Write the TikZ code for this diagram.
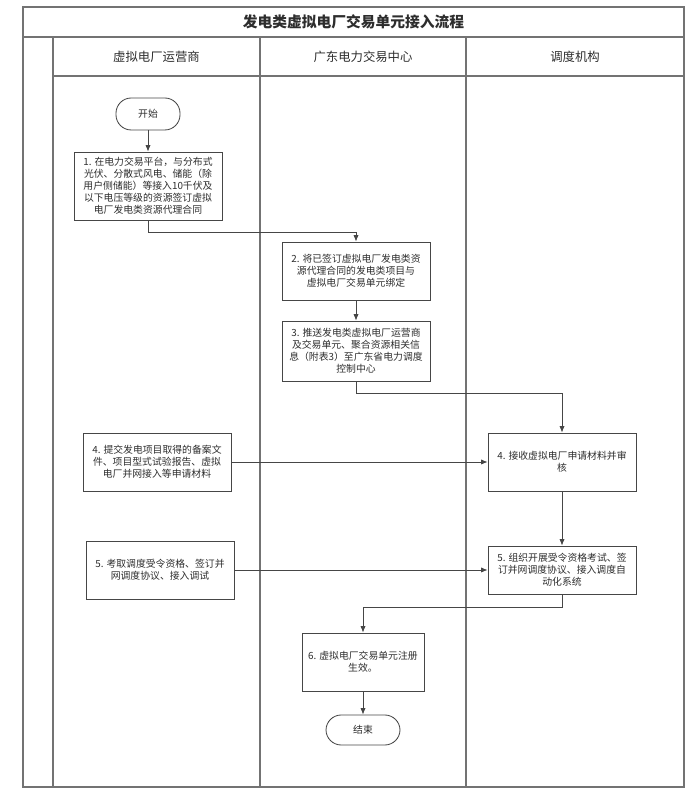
\documentclass[tikz,border=0pt]{standalone}
\usepackage{fontspec}
\setmainfont{Noto Sans CJK SC}
\usepackage{tikz}
\usetikzlibrary{arrows.meta, positioning, calc}
\definecolor{linegray}{RGB}{70, 70, 70}
\definecolor{framegray}{RGB}{115, 115, 115}
\definecolor{textgray}{RGB}{45, 45, 45}
\newcommand{\boxfont}{\fontsize{7}{8.6}\selectfont}
\tikzset{
    stepbox/.style={rectangle, draw=linegray, line width=0.6pt, text=textgray,
                    minimum width=3.7cm, minimum height=1.45cm, align=center,
                    inner sep=2pt, font=\boxfont},
    termbox/.style={rectangle, rounded corners=0.38cm, draw=linegray, line width=0.6pt,
                    text=textgray, minimum width=1.6cm, minimum height=0.8cm,
                    align=center, font=\boxfont},
    lanehead/.style={text=textgray, font=\fontsize{8.8}{10}\selectfont},
    frameline/.style={draw=framegray, line width=0.8pt},
    arrow/.style={-{Latex[length=1.6mm, width=1.3mm]}, line width=0.6pt, linegray},
}

\begin{document}
\begin{tikzpicture}
    \useasboundingbox (0,0) rectangle (17.5,19.975);

    % frame and lanes
    \draw[frameline] (0.575,0.3) rectangle (17.1,19.8);
    \draw[frameline] (0.575,19.05) -- (17.1,19.05);
    \draw[frameline] (1.325,0.3) -- (1.325,19.05);
    \draw[frameline] (1.325,18.075) -- (17.1,18.075);
    \draw[frameline] (6.5,0.3) -- (6.5,19.05);
    \draw[frameline] (11.65,0.3) -- (11.65,19.05);

    \node[text=textgray, font=\fontsize{10.5}{12}\selectfont\bfseries] (title) at (8.8375, 19.425) {发电类虚拟电厂交易单元接入流程};
    \node[lanehead] (lane1) at (3.9125, 18.5625) {虚拟电厂运营商};
    \node[lanehead] (lane2) at (9.075, 18.5625) {广东电力交易中心};
    \node[lanehead] (lane3) at (14.375, 18.5625) {调度机构};

    % steps
    \node[termbox] (start) at (3.7, 17.125) {开始};
    \node[stepbox, minimum height=1.7cm] (sign) at (3.7, 15.325) {1. 在电力交易平台，与分布式\\光伏、分散式风电、储能（除\\用户侧储能）等接入10千伏及\\以下电压等级的资源签订虚拟\\电厂发电类资源代理合同};
    \node[stepbox] (bind) at (8.9, 13.2) {2. 将已签订虚拟电厂发电类资\\源代理合同的发电类项目与\\虚拟电厂交易单元绑定};
    \node[stepbox, minimum height=1.5cm] (push) at (8.9, 11.2) {3. 推送发电类虚拟电厂运营商\\及交易单元、聚合资源相关信\\息（附表3）至广东省电力调度\\控制中心};
    \node[stepbox] (submit) at (3.925, 8.425) {4. 提交发电项目取得的备案文\\件、项目型式试验报告、虚拟\\电厂并网接入等申请材料};
    \node[stepbox] (review) at (14.05, 8.425) {4. 接收虚拟电厂申请材料并审\\核};
    \node[stepbox] (exam) at (4.0, 5.725) {5. 考取调度受令资格、签订并\\网调度协议、接入调试};
    \node[stepbox, minimum height=1.2cm] (organize) at (14.05, 5.725) {5. 组织开展受令资格考试、签\\订并网调度协议、接入调度自\\动化系统};
    \node[stepbox, minimum width=3.05cm] (register) at (9.075, 3.425) {6. 虚拟电厂交易单元注册\\生效。};
    \node[termbox, minimum width=1.85cm, minimum height=0.75cm] (finish) at (9.075, 1.725) {结束};

    % connectors
    \draw[arrow] (start) -- (sign);
    \draw[arrow] (sign.south) -- ++(0,-0.3) -| (bind.north);
    \draw[arrow] (bind) -- (push);
    \draw[arrow] (push.south) -- ++(0,-0.3) -| (review.north);
    \draw[arrow] (submit) -- (review);
    \draw[arrow] (review) -- (organize);
    \draw[arrow] (exam) -- (organize);
    \draw[arrow] (organize.south) -- ++(0,-0.325) -| (register.north);
    \draw[arrow] (register) -- (finish);
\end{tikzpicture}
\end{document}
